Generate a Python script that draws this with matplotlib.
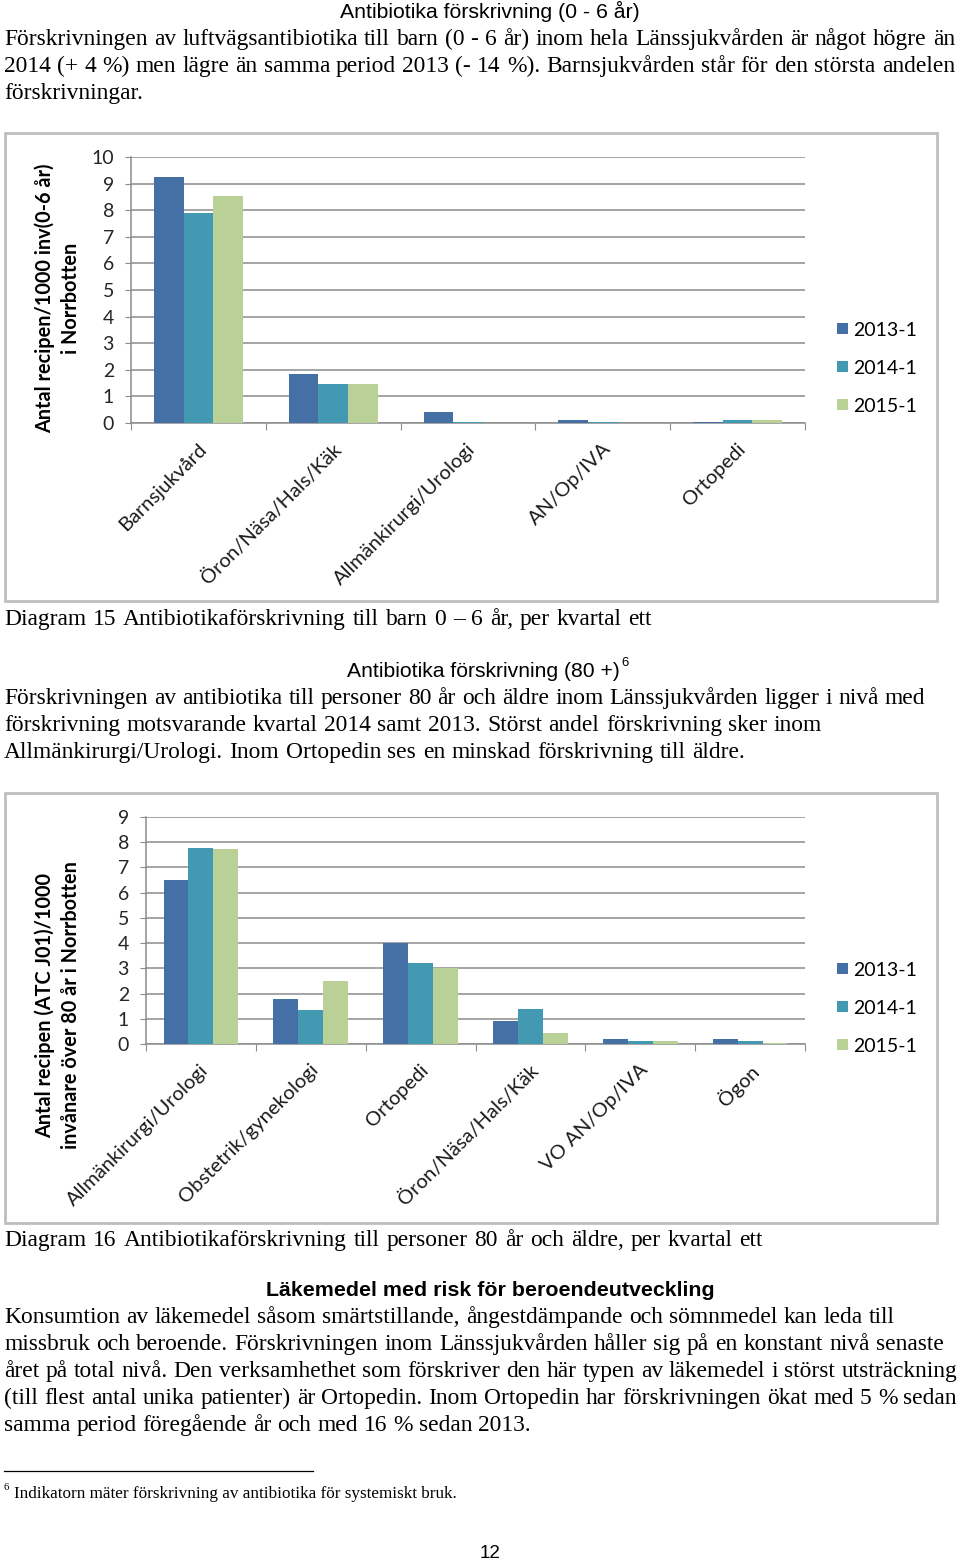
import numpy as np
import matplotlib
matplotlib.use("Agg")
import matplotlib.pyplot as plt
from matplotlib.patches import Rectangle, Patch
from matplotlib.lines import Line2D
from matplotlib.transforms import blended_transform_factory

# ---------------- data ----------------
series_names = ["2013-1", "2014-1", "2015-1"]
series_colors = ["#4470A6", "#4299B1", "#B9D096"]

cats1 = ["Barnsjukvård", "Öron/Näsa/Hals/Käk", "Allmänkirurgi/Urologi", "AN/Op/IVA", "Ortopedi"]
c1_2013 = [9.24, 1.83, 0.43, 0.13, 0.05]
c1_2014 = [7.89, 1.48, 0.05, 0.05, 0.13]
c1_2015 = [8.55, 1.48, 0.00, 0.00, 0.13]
yticks1 = list(range(0, 11))
ylabel1 = ["Antal recipen/1000 inv(0-6 år)", "i Norrbotten"]

cats2 = ["Allmänkirurgi/Urologi", "Obstetrik/gynekologi", "Ortopedi", "Öron/Näsa/Hals/Käk", "VO AN/Op/IVA", "Ögon"]
c2_2013 = [6.51, 1.78, 4.00, 0.90, 0.20, 0.20]
c2_2014 = [7.78, 1.33, 3.21, 1.39, 0.10, 0.10]
c2_2015 = [7.74, 2.48, 3.00, 0.45, 0.10, 0.05]
yticks2 = list(range(0, 10))
ylabel2 = ["Antal recipen (ATC J01)/1000", "invånare över 80 år i Norrbotten"]

header1 = "Antibiotika förskrivning (0 - 6 år)"
para1 = ["Förskrivningen av luftvägsantibiotika till barn (0 - 6 år) inom hela Länssjukvården är något högre än",
         "2014 (+ 4 %) men lägre än samma period 2013 (- 14 %). Barnsjukvården står för den största andelen",
         "förskrivningar."]
caption1 = "Diagram 15 Antibiotikaförskrivning till barn 0 – 6 år, per kvartal ett"
header2 = "Antibiotika förskrivning (80 +)"
para2 = ["Förskrivningen av antibiotika till personer 80 år och äldre inom Länssjukvården ligger i nivå med",
         "förskrivning motsvarande kvartal 2014 samt 2013. Störst andel förskrivning sker inom",
         "Allmänkirurgi/Urologi. Inom Ortopedin ses en minskad förskrivning till äldre."]
caption2 = "Diagram 16 Antibiotikaförskrivning till personer 80 år och äldre, per kvartal ett"
header3 = "Läkemedel med risk för beroendeutveckling"
para3 = ["Konsumtion av läkemedel såsom smärtstillande, ångestdämpande och sömnmedel kan leda till",
         "missbruk och beroende. Förskrivningen inom Länssjukvården håller sig på en konstant nivå senaste",
         "året på total nivå. Den verksamhethet som förskriver den här typen av läkemedel i störst utsträckning",
         "(till flest antal unika patienter) är Ortopedin. Inom Ortopedin har förskrivningen ökat med 5 % sedan",
         "samma period föregående år och med 16 % sedan 2013."]
footnote = "Indikatorn mäter förskrivning av antibiotika för systemiskt bruk."
page_no = "12"

# ---------------- layout helpers ----------------
W, H = 960, 1562
fig = plt.figure(figsize=(W / 100, H / 100), dpi=100)
fig.patch.set_facecolor("white")
renderer = fig.canvas.get_renderer()

SERIF = "Liberation Serif"
SANS = "Liberation Sans"
CHART = "Lato"
GRID = "#8C8C8C"


def fx(x):
    return x / W


def fy(y):
    return 1 - y / H


def measure(s, size, family, weight="normal"):
    t = fig.text(0, 0, s, fontsize=size, family=family, weight=weight)
    w = t.get_window_extent(renderer).width
    t.remove()
    return w


def fit_size(s, target, family, weight="normal"):
    return 20 * target / measure(s, 20, family, weight)


def justify(line, x0, x1, base_y, size, family):
    words = line.split(" ")
    widths = [measure(w, size, family) for w in words]
    if len(words) == 1:
        fig.text(fx(x0), fy(base_y), line, fontsize=size, family=family, va="baseline", ha="left")
        return
    gap = (x1 - x0 - sum(widths)) / (len(words) - 1)
    x = x0
    for w, wd in zip(words, widths):
        fig.text(fx(x), fy(base_y), w, fontsize=size, family=family, va="baseline", ha="left")
        x += wd + gap


body = fit_size(para2[0], 921, SERIF)

# ---------------- text ----------------
def centered(s, xc, base_y, target, family, weight="normal"):
    sz = fit_size(s, target, family, weight)
    fig.text(fx(xc), fy(base_y), s, fontsize=sz, family=family, weight=weight,
             ha="center", va="baseline")
    return sz

centered(header1, 490, 18, 300, SANS)
for txt, y, x1 in zip(para1, [45, 72, 99], [955, 955, 146]):
    justify(txt, 4, x1, y, body, SERIF)
justify(caption1, 4, 652, 625, body, SERIF)

sz2 = fit_size(header2, 274, SANS)
fig.text(fx(347), fy(677), header2, fontsize=sz2, family=SANS, ha="left", va="baseline")
fig.text(fx(621), fy(666), "6", fontsize=sz2 * 0.62, family=SANS, ha="left", va="baseline")
for txt, y, x1 in zip(para2, [704, 731, 758], [925, 822, 745]):
    justify(txt, 4, x1, y, body, SERIF)

justify(caption2, 4, 763, 1246, body, SERIF)
centered(header3, 490, 1296, 447, SANS, "bold")
for txt, y, x1 in zip(para3, [1323, 1350, 1377, 1404, 1431], [895, 944, 957, 957, 531]):
    justify(txt, 4, x1, y, body, SERIF)

fig.add_artist(Line2D([fx(4), fx(313)], [fy(1471), fy(1471)], color="black", lw=0.9,
                      transform=fig.transFigure))
fnsz = fit_size(footnote, 443, SERIF)
fig.text(fx(14), fy(1498), footnote, fontsize=fnsz, family=SERIF, ha="left", va="baseline")
fig.text(fx(4), fy(1490), "6", fontsize=fnsz * 0.62, family=SERIF, ha="left", va="baseline")
fig.text(fx(490), fy(1558), page_no, fontsize=13.5, family=SANS, ha="center", va="baseline")

# ---------------- charts ----------------
def chart(frame, box, cats, vals, yticks, ylabel, ylab_x, ylab_y, legend_mid, bar_w):
    fl, ft, fr, fb = frame
    fig.add_artist(Rectangle((fx(fl), fy(fb)), fx(fr) - fx(fl), fy(ft) - fy(fb),
                             transform=fig.transFigure, fill=False, ec="#BEBEBE", lw=2.0))
    l, t, r, b = box
    ax = fig.add_axes([fx(l), fy(b), fx(r) - fx(l), fy(t) - fy(b)])
    n = len(cats)
    x = np.arange(n)
    handles = []
    for k, (v, c, nm) in enumerate(zip(vals, series_colors, series_names)):
        ax.bar(x + (k - 1) * bar_w, v, width=bar_w, color=c, zorder=3, linewidth=0)
        handles.append(Patch(facecolor=c, label=nm))
    ax.set_xlim(-0.5, n - 0.5)
    ax.set_ylim(yticks[0], yticks[-1])
    ax.set_yticks(yticks)
    ax.set_yticklabels([str(v) for v in yticks], fontsize=14, family=CHART, color="#262626")
    ax.yaxis.grid(True, color=GRID, lw=1.1, zorder=0)
    ax.set_axisbelow(True)
    ax.set_xticks(np.arange(-0.5, n, 1.0))
    ax.set_xticklabels([])
    ax.tick_params(axis="y", length=4.3, width=0.8, color=GRID, pad=8.0)
    ax.tick_params(axis="x", length=5, width=0.8, color=GRID)
    for s in ["top", "right"]:
        ax.spines[s].set_visible(False)
    for s in ["left", "bottom"]:
        ax.spines[s].set_color(GRID)
        ax.spines[s].set_linewidth(1.1)
    tr = blended_transform_factory(ax.transData, ax.transAxes)
    dx = -1 / (r - l) * n
    dy = 17 / (b - t)
    for i, c in enumerate(cats):
        ax.text(i + dx, -dy, c, transform=tr, rotation=45, rotation_mode="anchor",
                ha="right", va="top", fontsize=14.5, family=CHART, color="#1a1a1a")
    fig.text(fx(ylab_x[0]), fy(ylab_y), ylabel[0], rotation=90, ha="center", va="center",
             fontsize=14.3, family=CHART, weight="bold")
    fig.text(fx(ylab_x[1]), fy(ylab_y), ylabel[1], rotation=90, ha="center", va="center",
             fontsize=14.3, family=CHART, weight="bold")
    ax.legend(handles=handles, loc="center left",
              bbox_to_anchor=(fx(837), fy(legend_mid)), bbox_transform=fig.transFigure,
              frameon=False, prop={"family": CHART, "size": 14},
              handlelength=0.55, handleheight=0.55, handletextpad=0.3,
              labelspacing=1.08, borderpad=0, borderaxespad=0)
    return ax

chart((5, 133, 937, 601), (131, 157, 805, 423), cats1, [c1_2013, c1_2014, c1_2015],
      yticks1, ylabel1, (45, 71), 298, 368, 0.22)
chart((5, 793, 937, 1223), (146, 817, 805, 1044), cats2, [c2_2013, c2_2014, c2_2015],
      yticks2, ylabel2, (45, 71), 1005, 1008, 0.227)

fig.savefig("out.png", dpi=100, facecolor="white")
